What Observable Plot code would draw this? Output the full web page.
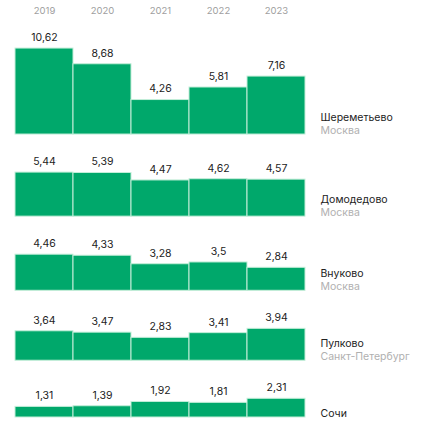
<!DOCTYPE html>
<html><head><meta charset="utf-8">
<script src="https://cdn.jsdelivr.net/npm/d3@7"></script>
<script src="https://cdn.jsdelivr.net/npm/@observablehq/plot@0.6"></script>
<style>
body{margin:0;background:#fff;}
#chart svg{display:block;}
</style>
</head><body><div id="chart"></div>
<script>
const years = ["2019","2020","2021","2022","2023"];
const airports = ["Шереметьево","Домодедово","Внуково","Пулково","Сочи"];
const cities = ["Москва","Москва","Москва","Санкт-Петербург",""];
const sheremetyevo = [10.62, 8.68, 4.26, 5.81, 7.16];
const domodedovo = [5.44, 5.39, 4.47, 4.62, 4.57];
const vnukovo = [4.46, 4.33, 3.28, 3.5, 2.84];
const pulkovo = [3.64, 3.47, 2.83, 3.41, 3.94];
const sochi = [1.31, 1.39, 1.92, 1.81, 2.31];
const series = [sheremetyevo, domodedovo, vnukovo, pulkovo, sochi];

const gap = 4.7; // vertical gap between rows, in value units
const fmt = v => String(v).replace(".", ",");

// per-row baselines (cumulative in value units, from top)
let acc = 0;
const rows = series.map((vals, i) => {
  acc += gap + d3.max(vals);
  return {airport: airports[i], city: cities[i], base: acc, hasCity: cities[i] !== ""};
});
const total = acc;

const bars = [];
series.forEach((vals, i) => vals.forEach((v, j) => bars.push({
  airport: airports[i], year: years[j], value: v,
  y1: rows[i].base - v, y2: rows[i].base, label: fmt(v)
})));

const withCity = rows.filter(r => r.hasCity);
const noCity = rows.filter(r => !r.hasCity);

const chart = Plot.plot({
  width: 425, height: 430,
  marginLeft: 13.3, marginRight: 117.5, marginTop: 10, marginBottom: 13,
  x: {type: "band", domain: years, padding: 0, axis: null},
  y: {domain: [0, total], reverse: true, axis: null},
  style: {fontFamily: "Inter, 'Noto Sans', sans-serif"},
  marks: [
    Plot.rect(bars, {x: "year", y1: "y1", y2: "y2", fill: "#00a86b", stroke: "#c4eed9", strokeWidth: 1}),
    Plot.text(bars, {x: "year", y: "y1", text: "label", dy: -11, fontSize: 10.5, fill: "#222", lineAnchor: "middle"}),
    Plot.text(years, {x: d => d, y: () => 0, text: d => d, fontSize: 9.5, fill: "#a0a0a0", lineAnchor: "middle"}),
    Plot.text(withCity, {y: "base", text: "airport", frameAnchor: "right", dx: 12.5, dy: -17, textAnchor: "start", fontSize: 10.5, fill: "#222", lineAnchor: "middle"}),
    Plot.text(withCity, {y: "base", text: "city", frameAnchor: "right", dx: 12.5, dy: -4, textAnchor: "start", fontSize: 10.5, fill: "#b0b0b0", lineAnchor: "middle"}),
    Plot.text(noCity, {y: "base", text: "airport", frameAnchor: "right", dx: 12.5, dy: -4, textAnchor: "start", fontSize: 10.5, fill: "#222", lineAnchor: "middle"})
  ]
});
document.getElementById("chart").appendChild(chart);
</script>
</body></html>
